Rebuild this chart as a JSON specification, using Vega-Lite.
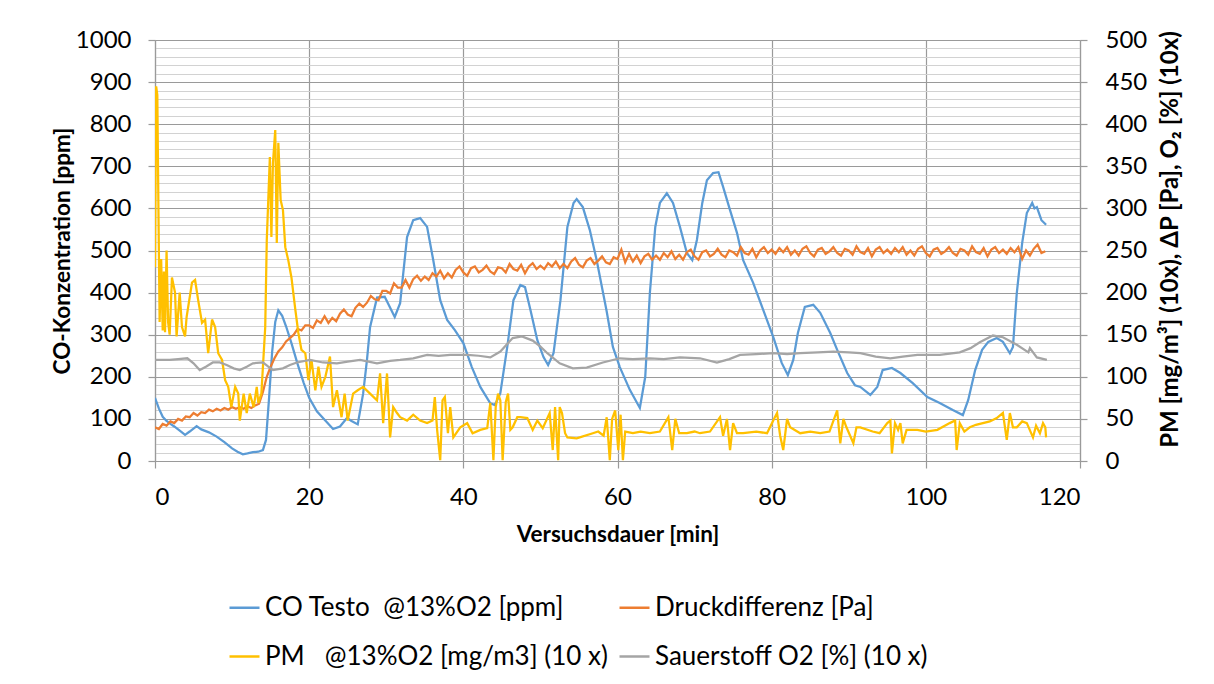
{
"$schema": "https://vega.github.io/schema/vega-lite/v6.json",
"width": 925, "height": 421,
"autosize": {"type": "none"},
"padding": {"left": 155, "top": 40, "right": 134, "bottom": 223},
"background": "white",
"config": {
  "font": "Lato",
  "view": {"stroke": null},
  "axis": {"labelFont": "Lato", "labelFontSize": 24, "labelColor": "#000000", "titleFont": "Lato", "titleFontSize": 22.5, "titleFontWeight": "bold", "titleColor": "#000000", "domainColor": "#9a9a9a", "domainWidth": 1.2, "tickColor": "#9a9a9a", "tickWidth": 1.2, "tickSize": 7, "gridColor": "#9a9a9a", "gridWidth": 1.2, "labelOverlap": false, "format": "d"},
  "legend": {"labelFont": "Lato", "labelFontSize": 26, "labelColor": "#000000", "labelLimit": 0}
},
"datasets": {
"co": [{"t":0,"v":150},{"t":0.5,"v":125},{"t":1,"v":105},{"t":1.5,"v":95},{"t":2,"v":88},{"t":2.5,"v":82},{"t":3,"v":75},{"t":3.5,"v":68},{"t":3.9,"v":62},{"t":4.5,"v":70},{"t":5.4,"v":83},{"t":6,"v":75},{"t":7,"v":68},{"t":8,"v":58},{"t":9,"v":45},{"t":10,"v":30},{"t":10.7,"v":22},{"t":11.4,"v":16},{"t":12,"v":18},{"t":12.7,"v":21},{"t":13.4,"v":22},{"t":14,"v":26},{"t":14.4,"v":50},{"t":14.8,"v":150},{"t":15.2,"v":260},{"t":15.6,"v":330},{"t":16,"v":358},{"t":16.5,"v":345},{"t":17,"v":320},{"t":17.7,"v":280},{"t":18.5,"v":230},{"t":19.3,"v":185},{"t":20,"v":150},{"t":21,"v":118},{"t":22,"v":98},{"t":23.1,"v":76},{"t":24,"v":82},{"t":24.9,"v":102},{"t":25.5,"v":95},{"t":26.3,"v":87},{"t":27,"v":160},{"t":27.5,"v":240},{"t":27.9,"v":318},{"t":28.8,"v":388},{"t":29.8,"v":390},{"t":31.1,"v":342},{"t":31.8,"v":375},{"t":32.7,"v":532},{"t":33.5,"v":572},{"t":34.4,"v":577},{"t":35.3,"v":556},{"t":36.1,"v":477},{"t":37,"v":382},{"t":37.9,"v":335},{"t":38.9,"v":311},{"t":40,"v":280},{"t":41.1,"v":223},{"t":42.2,"v":176},{"t":43.5,"v":137},{"t":44.1,"v":133},{"t":44.8,"v":161},{"t":45.7,"v":271},{"t":46.5,"v":382},{"t":47.4,"v":418},{"t":48,"v":413},{"t":48.7,"v":359},{"t":49.6,"v":287},{"t":50.4,"v":247},{"t":51,"v":228},{"t":51.7,"v":256},{"t":52.6,"v":382},{"t":53.5,"v":556},{"t":54.3,"v":613},{"t":54.7,"v":622},{"t":55.5,"v":603},{"t":56.4,"v":549},{"t":57.3,"v":477},{"t":58.6,"v":355},{"t":59.4,"v":271},{"t":60.3,"v":223},{"t":61.6,"v":169},{"t":62.9,"v":126},{"t":63.6,"v":200},{"t":64.2,"v":399},{"t":64.9,"v":556},{"t":65.5,"v":613},{"t":66.4,"v":636},{"t":67.2,"v":613},{"t":68.1,"v":556},{"t":69,"v":494},{"t":69.7,"v":477},{"t":70.3,"v":525},{"t":71,"v":613},{"t":71.6,"v":667},{"t":72.4,"v":684},{"t":73.1,"v":686},{"t":73.7,"v":651},{"t":74.6,"v":596},{"t":75.5,"v":542},{"t":76.3,"v":477},{"t":77.6,"v":423},{"t":78.9,"v":359},{"t":80.2,"v":295},{"t":81.3,"v":233},{"t":82.1,"v":204},{"t":82.8,"v":240},{"t":83.4,"v":304},{"t":84.3,"v":366},{"t":85.4,"v":371},{"t":86.3,"v":352},{"t":87.6,"v":304},{"t":88.5,"v":264},{"t":89.8,"v":209},{"t":90.8,"v":180},{"t":91.5,"v":176},{"t":92.8,"v":157},{"t":93.7,"v":176},{"t":94.4,"v":216},{"t":95.6,"v":221},{"t":96.7,"v":209},{"t":98.3,"v":185},{"t":100.2,"v":152},{"t":101.8,"v":138},{"t":103.5,"v":121},{"t":104.8,"v":109},{"t":105.5,"v":145},{"t":106.4,"v":216},{"t":107.3,"v":264},{"t":108.1,"v":283},{"t":109.2,"v":292},{"t":110,"v":283},{"t":110.9,"v":256},{"t":111.3,"v":271},{"t":111.8,"v":399},{"t":112.5,"v":518},{"t":113.1,"v":589},{"t":113.8,"v":613},{"t":114.1,"v":600},{"t":114.4,"v":603},{"t":115,"v":572},{"t":115.6,"v":561}],
"dp": [{"t":0,"v":40},{"t":0.5,"v":38},{"t":1,"v":44},{"t":1.5,"v":42},{"t":2,"v":47},{"t":2.5,"v":45},{"t":3,"v":50},{"t":3.5,"v":48},{"t":4,"v":53},{"t":4.5,"v":52},{"t":5,"v":57},{"t":5.5,"v":54},{"t":6,"v":58},{"t":6.5,"v":57},{"t":7,"v":61},{"t":7.5,"v":59},{"t":8,"v":62},{"t":8.5,"v":60},{"t":9,"v":63},{"t":9.5,"v":61},{"t":10,"v":64},{"t":10.5,"v":62},{"t":11,"v":64},{"t":11.5,"v":62},{"t":12,"v":65},{"t":12.5,"v":63},{"t":13,"v":66},{"t":13.5,"v":68},{"t":14,"v":82},{"t":14.5,"v":100},{"t":15,"v":112},{"t":15.5,"v":122},{"t":16,"v":130},{"t":16.5,"v":135},{"t":17,"v":142},{"t":17.5,"v":146},{"t":18,"v":150},{"t":18.5,"v":157},{"t":19,"v":155},{"t":19.5,"v":161},{"t":20,"v":161},{"t":20.5,"v":158},{"t":21,"v":167},{"t":21.5,"v":164},{"t":22,"v":172},{"t":22.5,"v":164},{"t":23,"v":170},{"t":23.5,"v":166},{"t":24,"v":175},{"t":24.5,"v":180},{"t":25,"v":174},{"t":25.5,"v":172},{"t":26,"v":182},{"t":26.5,"v":187},{"t":27,"v":183},{"t":27.5,"v":188},{"t":28,"v":196},{"t":28.5,"v":192},{"t":29,"v":191},{"t":29.5,"v":202},{"t":30,"v":202},{"t":30.5,"v":199},{"t":31,"v":211},{"t":31.5,"v":206},{"t":32,"v":206},{"t":32.5,"v":215},{"t":33,"v":206},{"t":33.5,"v":216},{"t":34,"v":220},{"t":34.5,"v":214},{"t":35,"v":219},{"t":35.5,"v":215},{"t":36,"v":223},{"t":36.5,"v":219},{"t":37,"v":226},{"t":37.5,"v":217},{"t":38,"v":223},{"t":38.5,"v":218},{"t":39,"v":227},{"t":39.5,"v":231},{"t":40,"v":224},{"t":40.5,"v":220},{"t":41,"v":229},{"t":41.5,"v":231},{"t":42,"v":224},{"t":42.5,"v":227},{"t":43,"v":232},{"t":43.5,"v":225},{"t":44,"v":222},{"t":44.5,"v":230},{"t":45,"v":229},{"t":45.5,"v":224},{"t":46,"v":234},{"t":46.5,"v":228},{"t":47,"v":226},{"t":47.5,"v":233},{"t":48,"v":223},{"t":48.5,"v":231},{"t":49,"v":235},{"t":49.5,"v":228},{"t":50,"v":232},{"t":50.5,"v":228},{"t":51,"v":235},{"t":51.5,"v":231},{"t":52,"v":237},{"t":52.5,"v":229},{"t":53,"v":234},{"t":53.5,"v":229},{"t":54,"v":237},{"t":54.5,"v":241},{"t":55,"v":233},{"t":55.5,"v":230},{"t":56,"v":238},{"t":56.5,"v":241},{"t":57,"v":234},{"t":57.5,"v":238},{"t":58,"v":243},{"t":58.5,"v":236},{"t":59,"v":234},{"t":59.5,"v":242},{"t":60,"v":240},{"t":60.5,"v":251},{"t":61,"v":236},{"t":61.5,"v":246},{"t":62,"v":237},{"t":62.5,"v":244},{"t":63,"v":235},{"t":63.5,"v":243},{"t":64,"v":246},{"t":64.5,"v":239},{"t":65,"v":244},{"t":65.5,"v":239},{"t":66,"v":247},{"t":66.5,"v":242},{"t":67,"v":249},{"t":67.5,"v":240},{"t":68,"v":245},{"t":68.5,"v":239},{"t":69,"v":248},{"t":69.5,"v":251},{"t":70,"v":243},{"t":70.5,"v":239},{"t":71,"v":248},{"t":71.5,"v":250},{"t":72,"v":243},{"t":72.5,"v":246},{"t":73,"v":252},{"t":73.5,"v":245},{"t":74,"v":242},{"t":74.5,"v":250},{"t":75,"v":248},{"t":75.5,"v":244},{"t":76,"v":254},{"t":76.5,"v":247},{"t":77,"v":245},{"t":77.5,"v":252},{"t":78,"v":242},{"t":78.5,"v":250},{"t":79,"v":254},{"t":79.5,"v":247},{"t":80,"v":251},{"t":80.5,"v":246},{"t":81,"v":253},{"t":81.5,"v":248},{"t":82,"v":254},{"t":82.5,"v":245},{"t":83,"v":250},{"t":83.5,"v":244},{"t":84,"v":252},{"t":84.5,"v":255},{"t":85,"v":247},{"t":85.5,"v":243},{"t":86,"v":251},{"t":86.5,"v":253},{"t":87,"v":246},{"t":87.5,"v":249},{"t":88,"v":254},{"t":88.5,"v":247},{"t":89,"v":244},{"t":89.5,"v":252},{"t":90,"v":250},{"t":90.5,"v":245},{"t":91,"v":255},{"t":91.5,"v":248},{"t":92,"v":246},{"t":92.5,"v":253},{"t":93,"v":243},{"t":93.5,"v":251},{"t":94,"v":254},{"t":94.5,"v":247},{"t":95,"v":251},{"t":95.5,"v":246},{"t":96,"v":253},{"t":96.5,"v":248},{"t":97,"v":254},{"t":97.5,"v":245},{"t":98,"v":250},{"t":98.5,"v":244},{"t":99,"v":252},{"t":99.5,"v":255},{"t":100,"v":247},{"t":100.5,"v":243},{"t":101,"v":251},{"t":101.5,"v":253},{"t":102,"v":246},{"t":102.5,"v":249},{"t":103,"v":254},{"t":103.5,"v":247},{"t":104,"v":244},{"t":104.5,"v":252},{"t":105,"v":250},{"t":105.5,"v":245},{"t":106,"v":255},{"t":106.5,"v":248},{"t":107,"v":246},{"t":107.5,"v":253},{"t":108,"v":243},{"t":108.5,"v":251},{"t":109,"v":254},{"t":109.5,"v":247},{"t":110,"v":251},{"t":110.5,"v":246},{"t":111,"v":253},{"t":111.5,"v":248},{"t":112,"v":254},{"t":112.5,"v":240},{"t":113,"v":250},{"t":113.5,"v":244},{"t":114,"v":252},{"t":114.5,"v":257},{"t":115,"v":247},{"t":115.5,"v":249}],
"pm": [{"t":0,"v":230},{"t":0.15,"v":445},{"t":0.3,"v":435},{"t":0.45,"v":295},{"t":0.6,"v":165},{"t":0.8,"v":240},{"t":1.0,"v":155},{"t":1.15,"v":225},{"t":1.3,"v":153},{"t":1.5,"v":250},{"t":1.7,"v":165},{"t":1.9,"v":150},{"t":2.2,"v":218},{"t":2.6,"v":200},{"t":2.8,"v":148},{"t":3.2,"v":200},{"t":3.5,"v":159},{"t":3.9,"v":148},{"t":4.1,"v":171},{"t":4.8,"v":212},{"t":5.2,"v":215},{"t":5.6,"v":191},{"t":6.1,"v":164},{"t":6.5,"v":168},{"t":6.9,"v":128},{"t":7.4,"v":168},{"t":7.8,"v":159},{"t":8.2,"v":128},{"t":8.7,"v":120},{"t":9.1,"v":96},{"t":9.5,"v":88},{"t":9.9,"v":64},{"t":10.4,"v":88},{"t":10.8,"v":80},{"t":11.0,"v":48},{"t":11.5,"v":80},{"t":11.9,"v":57},{"t":12.3,"v":80},{"t":12.8,"v":64},{"t":13.2,"v":88},{"t":13.4,"v":69},{"t":13.8,"v":80},{"t":14.3,"v":159},{"t":14.5,"v":262},{"t":14.9,"v":361},{"t":15.1,"v":266},{"t":15.3,"v":354},{"t":15.6,"v":393},{"t":15.8,"v":259},{"t":16.0,"v":378},{"t":16.3,"v":310},{"t":16.6,"v":298},{"t":16.9,"v":254},{"t":17.3,"v":238},{"t":17.7,"v":218},{"t":18.2,"v":180},{"t":18.6,"v":152},{"t":19.0,"v":132},{"t":19.5,"v":128},{"t":19.9,"v":96},{"t":20.3,"v":120},{"t":20.8,"v":84},{"t":21.2,"v":112},{"t":21.6,"v":88},{"t":22.1,"v":100},{"t":22.7,"v":124},{"t":23.1,"v":64},{"t":23.6,"v":84},{"t":24.2,"v":52},{"t":24.6,"v":80},{"t":25.0,"v":48},{"t":25.7,"v":80},{"t":26.3,"v":84},{"t":27.0,"v":88},{"t":27.9,"v":80},{"t":28.8,"v":72},{"t":29.2,"v":104},{"t":29.6,"v":45},{"t":30.1,"v":104},{"t":30.5,"v":28},{"t":30.9,"v":64},{"t":31.4,"v":57},{"t":31.8,"v":52},{"t":32.7,"v":48},{"t":33.5,"v":55},{"t":34.4,"v":48},{"t":35.3,"v":45},{"t":36.0,"v":48},{"t":36.3,"v":76},{"t":36.6,"v":37},{"t":37.0,"v":1},{"t":37.3,"v":72},{"t":37.6,"v":76},{"t":38.0,"v":33},{"t":38.3,"v":64},{"t":38.7,"v":28},{"t":39.6,"v":40},{"t":40.5,"v":45},{"t":41.2,"v":33},{"t":42.2,"v":37},{"t":43.1,"v":39},{"t":43.5,"v":69},{"t":43.9,"v":1},{"t":44.2,"v":64},{"t":44.5,"v":80},{"t":44.8,"v":72},{"t":45.1,"v":1},{"t":45.5,"v":70},{"t":45.8,"v":80},{"t":46.1,"v":37},{"t":46.4,"v":40},{"t":47.0,"v":52},{"t":47.4,"v":52},{"t":48.3,"v":51},{"t":49.0,"v":37},{"t":49.6,"v":48},{"t":50.3,"v":39},{"t":51.2,"v":57},{"t":51.6,"v":13},{"t":51.9,"v":64},{"t":52.3,"v":1},{"t":52.5,"v":64},{"t":52.8,"v":57},{"t":53.2,"v":33},{"t":53.5,"v":28},{"t":54.7,"v":27},{"t":55.1,"v":28},{"t":56.8,"v":33},{"t":57.5,"v":35},{"t":58.2,"v":30},{"t":58.6,"v":52},{"t":59.0,"v":1},{"t":59.3,"v":50},{"t":59.7,"v":60},{"t":60.1,"v":13},{"t":60.4,"v":55},{"t":60.7,"v":1},{"t":61.0,"v":35},{"t":62.0,"v":33},{"t":63.0,"v":35},{"t":64.2,"v":33},{"t":65.5,"v":35},{"t":66.6,"v":52},{"t":67.1,"v":13},{"t":67.5,"v":50},{"t":68.0,"v":33},{"t":69.0,"v":33},{"t":70.0,"v":35},{"t":70.7,"v":33},{"t":72.0,"v":35},{"t":73.3,"v":52},{"t":73.7,"v":30},{"t":74.2,"v":50},{"t":74.6,"v":13},{"t":75.0,"v":45},{"t":75.5,"v":33},{"t":76.3,"v":33},{"t":78.0,"v":35},{"t":79.4,"v":33},{"t":80.3,"v":50},{"t":80.7,"v":57},{"t":81.1,"v":30},{"t":81.5,"v":13},{"t":82.0,"v":50},{"t":82.4,"v":40},{"t":83.7,"v":33},{"t":85.0,"v":35},{"t":86.3,"v":33},{"t":87.5,"v":35},{"t":88.5,"v":60},{"t":88.9,"v":21},{"t":89.3,"v":50},{"t":89.7,"v":40},{"t":90.6,"v":21},{"t":91.0,"v":40},{"t":91.5,"v":40},{"t":93.1,"v":35},{"t":94.0,"v":33},{"t":95.0,"v":45},{"t":95.4,"v":48},{"t":95.6,"v":9},{"t":96.0,"v":45},{"t":96.4,"v":37},{"t":96.7,"v":45},{"t":97.0,"v":21},{"t":97.5,"v":37},{"t":98.9,"v":37},{"t":100.0,"v":35},{"t":101.5,"v":37},{"t":103.1,"v":45},{"t":103.8,"v":48},{"t":104.0,"v":13},{"t":104.4,"v":45},{"t":105.0,"v":35},{"t":105.7,"v":40},{"t":106.5,"v":43},{"t":107.4,"v":45},{"t":108.3,"v":47},{"t":109.2,"v":51},{"t":110.0,"v":57},{"t":110.5,"v":25},{"t":110.9,"v":57},{"t":111.3,"v":40},{"t":111.8,"v":40},{"t":112.5,"v":47},{"t":113.1,"v":45},{"t":113.9,"v":28},{"t":114.3,"v":42},{"t":114.8,"v":33},{"t":115.2,"v":45},{"t":115.5,"v":40},{"t":115.6,"v":28}],
"o2": [{"t":0,"v":120},{"t":1.9,"v":120},{"t":3,"v":121},{"t":4.2,"v":122},{"t":5,"v":116},{"t":5.8,"v":108},{"t":6.6,"v":112},{"t":7.5,"v":117},{"t":8.4,"v":117},{"t":9.3,"v":114},{"t":10.2,"v":110},{"t":11,"v":108},{"t":11.9,"v":112},{"t":12.7,"v":116},{"t":14,"v":117},{"t":14.7,"v":112},{"t":15.3,"v":108},{"t":16.6,"v":110},{"t":17.5,"v":114},{"t":18.4,"v":117},{"t":20.1,"v":120},{"t":21.8,"v":117},{"t":23.6,"v":116},{"t":25,"v":118},{"t":26.6,"v":120},{"t":28.8,"v":116},{"t":30.5,"v":119},{"t":31.8,"v":120},{"t":33.5,"v":122},{"t":35.3,"v":126},{"t":36.8,"v":125},{"t":38.3,"v":126},{"t":40.5,"v":126},{"t":42,"v":125},{"t":43.5,"v":123},{"t":44.8,"v":130},{"t":45.6,"v":138},{"t":46.4,"v":146},{"t":47.6,"v":148},{"t":49,"v":143},{"t":50,"v":136},{"t":50.9,"v":128},{"t":52.5,"v":116},{"t":54.2,"v":110},{"t":56,"v":111},{"t":58.1,"v":117},{"t":60.3,"v":122},{"t":62,"v":121},{"t":64.2,"v":122},{"t":66,"v":121},{"t":68.1,"v":123},{"t":70.7,"v":122},{"t":72.9,"v":117},{"t":74.5,"v":121},{"t":75.9,"v":126},{"t":78,"v":127},{"t":80.2,"v":128},{"t":82,"v":127},{"t":83.7,"v":128},{"t":86,"v":129},{"t":88,"v":130},{"t":90,"v":129},{"t":91.5,"v":128},{"t":93.5,"v":124},{"t":95.4,"v":122},{"t":97,"v":124},{"t":98.9,"v":126},{"t":101.8,"v":126},{"t":104.4,"v":129},{"t":105.8,"v":134},{"t":107,"v":141},{"t":108.7,"v":149},{"t":110,"v":147},{"t":111.8,"v":138},{"t":113.3,"v":129},{"t":113.5,"v":134},{"t":114.4,"v":123},{"t":115.7,"v":120}]
},
"encoding": {
  "x": {"field": "t", "type": "quantitative", "scale": {"domain": [0, 120], "nice": false, "zero": false},
        "axis": {"values": [0, 20, 40, 60, 80, 100, 120], "title": "Versuchsdauer [min]", "labelPadding": 17, "titlePadding": 14, "grid": true, "gridColor": "#9a9a9a"}}
},
"layer": [
  {
    "data": {"name": "co"},
    "mark": {"type": "line", "strokeWidth": 2.25, "clip": true},
    "encoding": {
      "y": {"field": "v", "type": "quantitative", "scale": {"domain": [0, 1000], "nice": false},
            "axis": {"orient": "left", "title": "CO-Konzentration [ppm]", "values": [0,20,40,60,80,100,120,140,160,180,200,220,240,260,280,300,320,340,360,380,400,420,440,460,480,500,520,540,560,580,600,620,640,660,680,700,720,740,760,780,800,820,840,860,880,900,920,940,960,980,1000],
                     "labelExpr": "datum.value % 100 === 0 ? datum.label : ''",
                     "tickOpacity": {"condition": {"test": "datum.value % 100 === 0", "value": 1}, "value": 0},
                     "gridColor": {"condition": {"test": "datum.value % 100 === 0", "value": "#9a9a9a"}, "value": "#d2d2d2"},
                     "grid": true, "labelPadding": 17, "titlePadding": 1}},
      "color": {"datum": "CO Testo\u00a0 @13%O2 [ppm]", "type": "nominal",
                "scale": {"domain": ["CO Testo\u00a0 @13%O2 [ppm]", "Druckdifferenz [Pa]", "PM\u00a0\u00a0 @13%O2 [mg/m3] (10 x)", "Sauerstoff O2 [%] (10 x)"],
                          "range": ["#5B9BD5", "#ED7D31", "#FFC000", "#A5A5A5"]},
                "legend": {"title": null, "orient": "none", "legendX": 73, "legendY": 551, "columns": 2, "direction": "horizontal", "symbolType": "stroke", "symbolSize": 900, "symbolStrokeWidth": 2.5, "labelOffset": 4, "columnPadding": 6, "rowPadding": 19, "labelFontSize": 26, "labelLimit": 0}}
    }
  },
  {
    "encoding": {
      "y": {"field": "v", "type": "quantitative", "scale": {"domain": [0, 500], "nice": false},
            "axis": {"orient": "right", "title": "PM [mg/m³] (10x), ΔP [Pa], O₂ [%] (10x)", "values": [0,50,100,150,200,250,300,350,400,450,500], "grid": false, "labelPadding": 18, "titleAngle": 270, "titleX": 90, "titleY": 199, "titleAlign": "center", "titleBaseline": "middle", "titleFontSize": 24}}
    },
    "layer": [
      {"data": {"name": "dp"}, "mark": {"type": "line", "strokeWidth": 2.25, "clip": true}, "encoding": {"color": {"datum": "Druckdifferenz [Pa]", "type": "nominal"}}},
      {"data": {"name": "pm"}, "mark": {"type": "line", "strokeWidth": 2.25, "clip": true}, "encoding": {"color": {"datum": "PM\u00a0\u00a0 @13%O2 [mg/m3] (10 x)", "type": "nominal"}}},
      {"data": {"name": "o2"}, "mark": {"type": "line", "strokeWidth": 2.25, "clip": true}, "encoding": {"color": {"datum": "Sauerstoff O2 [%] (10 x)", "type": "nominal"}}}
    ]
  }
],
"resolve": {"scale": {"y": "independent"}}
}
